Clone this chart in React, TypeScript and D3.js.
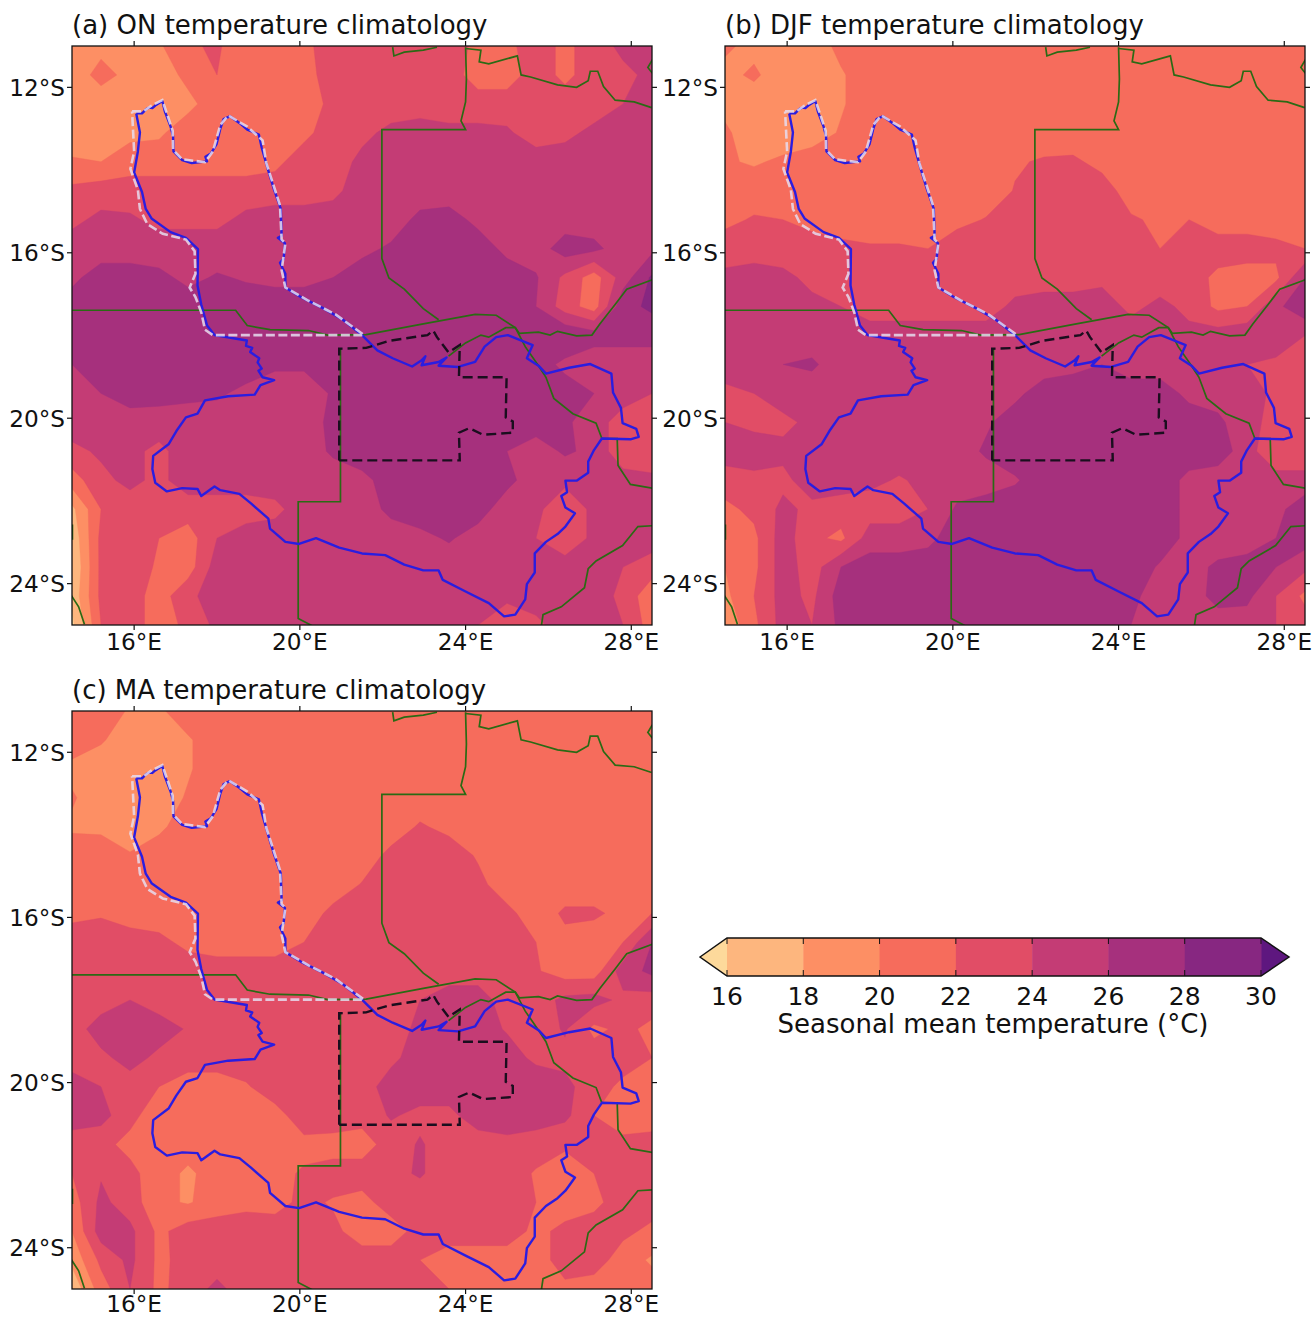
import React from "react";
import * as d3 from "d3";

type P = [number, number];

const FONT = "'DejaVu Sans', sans-serif";
const LON_MIN = 14.5, LON_MAX = 28.5, LAT_TOP = -11, LAT_BOTTOM = -25;
const GRID_N = 21;
const THRESHOLDS = [16, 18, 20, 22, 24, 26, 28, 30];
const BAND_COLORS = ["#FDB67E", "#FD8F64", "#F66C5C", "#E14D66", "#C43C75", "#A6307D", "#872781", "#5E177F"];
const UNDER_COLOR = "#FDD99B";
const LON_TICKS = [16, 20, 24, 28];
const LAT_TICKS = [-12, -16, -20, -24];

const ON_TEMP = [
  [19,19.5,19.5,19.7,21.8,22.2,21,21,21.5,23,23,23,23,23,21.5,21.5,23,21.5,23,24.5,25],
  [19,20.6,19.5,19,20.5,22,21,21,21.2,23,23,23,23,23,21,21,23,21.5,23,23.5,24.5],
  [19,19,19,19,19.5,21,21,21,21,22.5,23,23,23,22,23,23,23,23,23,24,25],
  [19,19.3,19.5,19.7,21,21,21,21,21.5,23,23.5,24.5,25,25,24.5,24.3,23,23.5,24.5,25,25],
  [20.2,20,21,21,21,21,21,21.5,23,23,24.5,25,25,25,25,25,25,25,25,25,25],
  [22.5,23,23,23,23,23,23,23,23,23.5,25,25,25,25,25,25,25,25,25,25,25],
  [23.5,24.5,24.3,23.5,23.5,23.5,24.5,25,25,25,25,25,26.5,26.8,25.5,25,25,25,25,25,25],
  [25,25,25,25,25,25,25,25,25,25,25.5,26.3,27,27,27,25.5,25,27,26.5,25,25.5],
  [25.5,27,27,26.5,25.5,26.2,25.8,25.5,25.5,26,27,27,27,27,27,27,26.2,23.5,21,25,28.3],
  [27,27,27,27,27,27,27,27,27,27,27,27,27,27,27,27,26,23,21,27.5,28.3],
  [27,27,27,27,27,27,27,27,27,27,27,27,27,27,27,27,27,27.8,27,27,27],
  [26,27,27,27,27,27,27,26.3,26.3,27,27,27,27,27,27,27,27,25.5,24.5,24.5,24.5],
  [25,26,27,26.8,26.5,26.3,25.5,25,25,26.2,27,27,27,27,27,27,27,27,26,24.5,24],
  [25,25,25,25,25,25,25,25,25,26.5,27,27,27,27,27,27,27,26.5,24.5,23.5,22.5],
  [23.5,24.3,24.5,23.5,25,25,25,25,25,26.3,27,27,27,27,27,26,25,26.3,25.5,22.5,22.5],
  [21,23.5,24.5,23.5,25,25,25,25,25,25,25.5,26.8,27,27,27,26.5,25,24.5,25,25,24.5],
  [17.5,22,23,23,23,23,23,23.5,25,25,25,26.5,27,27,26.8,25,24.5,22.5,24.5,25,25],
  [16.5,22.5,23.3,22,21,24,25,25,25,25,25,25,25.5,26.2,25.2,25,24,22.5,24.5,25,25],
  [16,22.5,23.8,21.5,21,25,25,25,25,25,25,25,25,25,25,25,25,25,24.5,24,23],
  [16.5,22.5,23,21,23.5,25,25,25,25,25,25,25,25,25,25,24.5,25,24.8,25,23.5,20.5],
  [15.5,22,23,21,22.5,24.5,25,25,25,25,25,25,25,25,24,22.5,23.5,25,25,24,21],
];

const DJF_TEMP = [
  [20.3,19.5,19,19,20.5,21,21,21,21,21,21,21,21,21,21,21,21,21,21,21,21],
  [19.5,20.3,19,19,19.8,21,21,21,21,21,21,21,21,21,21,21,21,21,21,21,21],
  [19.5,19,19,19,19.8,21,21,21,21,21,21,21,21,21,21,21,21,21,21,21,21],
  [20.3,19,19,19,20.2,21,21,21,21,21,21,21,21,21,21,21,21,21,21,21,21],
  [20.2,19.8,20.3,21,21,21,21,21,21,21,21.8,22.2,22.3,21.5,21,21,21,21,21,21,21],
  [21,21,21,21,21,21,21,21,21,21,22.1,23,23,22.8,21.2,21,21.5,21.8,21,21,21],
  [21.5,22.2,22,21.3,21,21,21,21,21.5,22.1,23,23,23,23,22.2,21.7,22,21,21,21,21],
  [23,23,23,23,22.5,22.2,22.2,22,23,23,23,23,23,23,23,22,23,23,23,22.5,22],
  [24.5,25,24.5,23.5,23,23,23,23,23,23,23,23,23,23.5,23,23,23,21.5,21,21.5,26],
  [25,25,25,24.5,24,23,23,23,23,23,24.5,25,25,25,23.5,24.5,23.5,21.5,22,25.5,27.5],
  [25,25,25,25,25,25,25,25,25,25,25,25,25,25,25,25,24.5,25,25.5,25.5,24],
  [25,25.5,26,26.3,25,25,25,25,25,25,25,25,25.5,26,25,25,25,24.5,24,23.5,23],
  [23.5,24,25,25,25,25,25,25,25,25,25.5,27,27,27,27,27,25.5,25,25,23.5,23],
  [24,23.5,23.5,24.5,25,25,25,25,25,25.7,27,27,27,27,27,27,27,26.5,24.5,23.5,22.5],
  [25,25,24.5,25,25,25,25,25,25,26.3,27,27,27,27,27,27,27,27,25,22,22],
  [23,23.5,23.5,25,25,24.5,23.8,24.5,25,25,25.8,27,27,27,27,27,25.5,25,25,25,25],
  [21.5,22.5,24.5,23.5,23,23,23,24,26.3,27,27,27,27,27,27,27,25.5,24,24.5,25.5,27],
  [20.5,21.5,25,22.5,21.5,25,25,25.5,27,27,27,27,27,27,27,27,25.5,24.5,25,26,27],
  [20,21.5,25,23,26,27,27,27,27,27,27,27,27,27,27,25.8,25,26.5,26.8,26,24.5],
  [19.5,22,24.8,23.5,27,27,27,27,27,27,27,27,27,27,26.5,25,25,26.7,26.5,24,21.5],
  [18.5,21.5,24.8,24,26.5,27,27,27,27,27,27,27,27,27,26,25,25,25,25,24,23],
];

const MA_TEMP = [
  [21,21,19.8,19.7,21,21,21,21,21,21,21,21,21,21,21,21,21,21,21,21,21],
  [21,20.2,19,19,19.8,21,21,21,21,21,21,21,21,21,21,21,21,21,21,21,21],
  [19.5,19,19,19,19.8,21,21,21,21,21,21,21,21,21,21,21,21,21,21,21,21],
  [20.2,19,19,19,20.2,21,21,21,21,21,21,21,21,21,21,21,21,21,21,21,21],
  [19.7,19.6,19.3,19.6,21,21,21,21,21,21,21,21,22.2,21.5,21,21,21,21,21,21,21],
  [21,21,20.1,21,21,21,21,21,21,21,21,22.5,23,23,21.8,21,21,21,21,21,21],
  [21,21,21,21,21,21,21,21,21,21,22.1,23,23,23,22.5,21,21,21,21,21,21],
  [21.5,21.8,21,21,21,21,21,21,21,22.5,23,23,23,23,23,22.5,21,22.3,22.3,21.5,22],
  [23,23,23,22.5,21.5,21,21,21,22,23,23,23,23,23,23,23,22,21.5,21,22,26],
  [23,23,23,23,23,23,23,23,23,23,23,23,23,23,23,23,22.2,21,21,25,26.5],
  [23,23,24,23,23,23,23,23,23,23,23,23,24,25,25,23,23,24.5,24.8,23.5,23],
  [23,25,25.5,25,23.8,23,23,23,23,23,23,23,24.5,25,25,23.8,23,24.2,21.5,22.5,21.5],
  [23,23.5,24.8,23.5,23,23,23,23,23,23,23,23.5,25,25,25,25,23.5,23.5,23,23,22],
  [25,24,23,22,21,21,21.8,23,23,23,23,25,25,25,25,25,25.5,24.5,23,21.5,21],
  [25,24.8,22.5,21,21,21,21,21.3,23,23.5,22.8,24.2,23.5,23.5,25,25,25,24.5,22,21,21],
  [23,22.5,21.5,21,21,21,21,21,21.5,21,21,23,24.2,23,23,23.5,23,22.3,22,22.5,22.8],
  [22,23.8,22.5,21,19.6,21,21,21.5,22.2,23,23,23.5,24.2,23,23,23,21.8,21,22,23,23],
  [21,24.5,23,20.5,19.8,21,21.5,21.3,22.5,21.8,21.3,23,23,23,23,23,22,21,21.5,23,23],
  [20,25,24.5,21.5,23,23,23,23,23,22.5,21,21,22.8,23,23,23,21.5,22.5,23,22.5,21.5],
  [18.5,22.5,24.5,21.5,22.8,23,23,23,23,23,23,23,22,21,21,21,21,23,23,21,19.7],
  [16.5,21,24,21.5,23,24.5,23,23,23,23,23,23,23,22,21,21,21,21.5,21,21,21],
];

const BASIN: P[] = [[16.05,-12.63],[16.19,-12.63],[16.3,-12.52],[16.37,-12.49],[16.44,-12.5],[16.51,-12.44],[16.68,-12.33],[16.74,-12.58],[16.88,-12.95],[16.94,-13.18],[16.95,-13.55],[17.16,-13.76],[17.39,-13.83],[17.76,-13.79],[17.72,-13.68],[17.85,-13.6],[17.99,-13.37],[18.08,-13],[18.16,-12.77],[18.31,-12.7],[18.54,-12.86],[18.73,-13.02],[19.01,-13.14],[19.08,-13.46],[19.24,-14.02],[19.38,-14.48],[19.54,-14.94],[19.56,-15.59],[19.47,-15.64],[19.64,-15.77],[19.61,-16.14],[19.52,-16.24],[19.65,-16.51],[19.65,-16.84],[20.02,-17.07],[20.58,-17.35],[21.04,-17.62],[21.5,-17.99],[21.87,-18.36],[22.24,-18.55],[22.71,-18.75],[22.94,-18.6],[23.03,-18.5],[22.94,-18.72],[23.35,-18.64],[23.54,-18.53],[23.35,-18.73],[23.82,-18.76],[24.23,-18.64],[24.46,-18.27],[24.74,-18.04],[25.02,-17.99],[25.62,-18.23],[25.48,-18.55],[25.76,-18.73],[25.94,-18.92],[26.5,-18.78],[27.01,-18.69],[27.52,-18.92],[27.56,-19.38],[27.75,-19.75],[27.79,-20.12],[28.12,-20.26],[28.18,-20.45],[27.98,-20.51],[27.29,-20.49],[27.1,-20.77],[26.96,-21.05],[26.96,-21.32],[26.68,-21.51],[26.41,-21.51],[26.45,-21.79],[26.31,-21.88],[26.41,-22.16],[26.64,-22.3],[26.41,-22.62],[26.22,-22.8],[25.94,-22.99],[25.67,-23.27],[25.67,-23.73],[25.48,-24.01],[25.44,-24.38],[25.2,-24.75],[24.93,-24.79],[24.56,-24.47],[24,-24.19],[23.45,-23.91],[23.35,-23.68],[22.98,-23.68],[22.52,-23.54],[22.06,-23.31],[21.5,-23.27],[20.95,-23.13],[20.39,-22.9],[19.98,-23.04],[19.65,-22.99],[19.28,-22.67],[19.24,-22.43],[18.82,-22.06],[18.54,-21.83],[18.08,-21.74],[17.94,-21.65],[17.62,-21.88],[17.53,-21.71],[17.16,-21.69],[16.79,-21.77],[16.51,-21.56],[16.44,-21.23],[16.46,-20.91],[16.83,-20.63],[17.02,-20.31],[17.25,-19.98],[17.53,-19.89],[17.71,-19.57],[18.27,-19.47],[18.91,-19.43],[19.05,-19.2],[19.38,-19.08],[19.1,-19.01],[19,-18.85],[19.08,-18.8],[18.98,-18.65],[19.02,-18.55],[18.8,-18.4],[18.85,-18.3],[18.7,-18.25],[18.72,-18.12],[18.54,-18.09],[17.94,-17.99],[17.76,-17.76],[17.62,-17.25],[17.53,-16.79],[17.54,-15.91],[17.25,-15.64],[16.88,-15.5],[16.42,-15.17],[16.28,-14.94],[16.19,-14.53],[16,-14.06],[16.09,-13.55],[16.14,-13.09],[16.05,-12.63]];

const UPPER_BASIN: P[] = [[15.95,-12.58],[16.23,-12.58],[16.42,-12.44],[16.68,-12.31],[16.79,-12.63],[16.93,-13.05],[16.94,-13.51],[17.16,-13.74],[17.71,-13.81],[17.9,-13.55],[18.08,-12.91],[18.27,-12.68],[18.73,-12.95],[19.1,-13.28],[19.19,-13.83],[19.52,-14.85],[19.56,-15.68],[19.65,-15.77],[19.56,-16.42],[19.65,-16.84],[20.21,-17.16],[20.86,-17.49],[21.55,-17.99],[17.9,-17.99],[17.71,-17.86],[17.62,-17.44],[17.48,-17.07],[17.34,-16.84],[17.48,-16.51],[17.46,-15.96],[17.25,-15.68],[16.69,-15.54],[16.32,-15.31],[16.14,-14.94],[16.09,-14.48],[15.91,-13.97],[16,-13.55],[15.95,-12.58]];

const DELTA: P[] = [[20.95,-21.02],[20.95,-18.32],[21.6,-18.3],[22.15,-18.13],[23.08,-17.99],[23.22,-17.88],[23.31,-18.04],[23.59,-18.41],[23.86,-18.23],[23.84,-19.01],[24.99,-19.01],[24.97,-19.98],[25.14,-20.08],[25.14,-20.35],[24.42,-20.4],[24.09,-20.24],[23.84,-20.35],[23.86,-21.02],[20.95,-21.02]];

const BORDERS: P[][] = [
  [[14.48,-17.39],[18.45,-17.39],[18.73,-17.76],[19.28,-17.86],[20.21,-17.88],[20.67,-17.99],[21.6,-17.98],[22.98,-17.72],[24.23,-17.49],[24.74,-17.51],[25.2,-17.81],[25.3,-17.95],[25.76,-17.92],[26.04,-17.99],[26.22,-17.9],[26.68,-18.01],[27.05,-17.99],[27.24,-17.72],[27.61,-17.25],[27.89,-16.88],[28.51,-16.65]],
  [[24,-11.03],[24.02,-11.8],[24,-12.35],[23.89,-12.81],[24,-13.02],[21.98,-13.02],[21.98,-16.14],[22.15,-16.61],[22.52,-16.88],[22.98,-17.35],[23.35,-17.62]],
  [[20.98,-18.32],[20.98,-22.02],[19.96,-22.02],[19.96,-24.84],[20.3,-25.02]],
  [[23.59,-18.5],[24,-18.18],[24.37,-17.99],[24.56,-18.04],[24.97,-17.81],[25.2,-17.81],[25.44,-18.27],[25.76,-18.73],[25.94,-19.01],[26.13,-19.52],[26.59,-19.89],[27.15,-20.12],[27.29,-20.49],[27.66,-20.49],[27.68,-21.14],[27.98,-21.6],[28.51,-21.69]],
  [[28.51,-22.6],[28.16,-22.62],[27.79,-23.08],[27.15,-23.45],[26.96,-23.64],[26.87,-24.1],[26.31,-24.56],[25.87,-24.75],[25.83,-25.02]],
  [[22.24,-11.03],[22.27,-11.24],[22.52,-11.15],[22.98,-11.1],[23.31,-11.03]],
  [[24,-11.06],[24.37,-11.1],[24.33,-11.38],[24.56,-11.43],[25.25,-11.24],[25.34,-11.7],[25.57,-11.75],[26.22,-11.94],[26.68,-12],[26.96,-11.84],[27.01,-11.61],[27.19,-11.61],[27.33,-11.98],[27.61,-12.31],[28.07,-12.35],[28.49,-12.49]],
  [[28.51,-11.33],[28.4,-11.52],[28.51,-11.66]],
  [[14.48,-24.28],[14.66,-24.56],[14.8,-24.98]],
  [[14.51,-22.57],[14.51,-22.94]],
];

const PANELS = [
  { id: "a", title: "(a) ON temperature climatology", grid: ON_TEMP, x0: 72, y0: 46, w: 580, h: 579, lonLabelDy: 25 },
  { id: "b", title: "(b) DJF temperature climatology", grid: DJF_TEMP, x0: 725, y0: 46, w: 580, h: 579, lonLabelDy: 25 },
  { id: "c", title: "(c) MA temperature climatology", grid: MA_TEMP, x0: 72, y0: 711, w: 580, h: 578, lonLabelDy: 22.5 },
];

const CB_TICKS = [16, 18, 20, 22, 24, 26, 28, 30];

function Panel({ p }: { p: (typeof PANELS)[number] }) {
  const x = d3.scaleLinear().domain([LON_MIN, LON_MAX]).range([p.x0, p.x0 + p.w]);
  const y = d3.scaleLinear().domain([LAT_TOP, LAT_BOTTOM]).range([p.y0, p.y0 + p.h]);
  // d3.contours places cell values at i + 0.5
  const gx = d3.scaleLinear().domain([0.5, GRID_N - 0.5]).range([LON_MIN, LON_MAX]);
  const gy = d3.scaleLinear().domain([0.5, GRID_N - 0.5]).range([LAT_TOP, LAT_BOTTOM]);
  const contours = d3.contours().size([GRID_N, GRID_N]).thresholds(THRESHOLDS)(p.grid.flat());
  const geo = d3.geoPath(
    d3.geoTransform({
      point(px: number, py: number) {
        (this as any).stream.point(x(gx(px)), y(gy(py)));
      },
    })
  );
  const line = d3.line<P>().x((d) => x(d[0])).y((d) => y(d[1]));
  const clip = `clip-${p.id}`;
  return (
    <g>
      <clipPath id={clip}>
        <rect x={p.x0} y={p.y0} width={p.w} height={p.h} />
      </clipPath>
      <g clipPath={`url(#${clip})`}>
        <rect x={p.x0} y={p.y0} width={p.w} height={p.h} fill={UNDER_COLOR} />
        {contours.map((c, i) => (
          <path key={i} d={geo(c as any) || ""} fill={BAND_COLORS[i]} stroke={BAND_COLORS[i]} strokeWidth={0.4} />
        ))}
        {BORDERS.map((b, i) => (
          <path key={i} d={line(b) || ""} fill="none" stroke="#2A6A14" strokeWidth={1.7} />
        ))}
        <path d={line(BASIN) || ""} fill="none" stroke="#2A1DE0" strokeWidth={2.4} strokeLinejoin="round" />
        <path d={line(UPPER_BASIN) || ""} fill="none" stroke="#E6DCEF" strokeOpacity={0.85} strokeWidth={2.6} strokeDasharray="9 3.5" />
        <path d={line(DELTA) || ""} fill="none" stroke="#1A0E1E" strokeWidth={2.4} strokeDasharray="10 5" />
      </g>
      <rect x={p.x0} y={p.y0} width={p.w} height={p.h} fill="none" stroke="#111" strokeWidth={1.3} />
      {LON_TICKS.map((t) => (
        <g key={t}>
          <line x1={x(t)} x2={x(t)} y1={p.y0 + p.h} y2={p.y0 + p.h + 5} stroke="#111" strokeWidth={1.2} />
          <line x1={x(t)} x2={x(t)} y1={p.y0} y2={p.y0 - 5} stroke="#111" strokeWidth={1.2} />
          <text x={x(t)} y={p.y0 + p.h + p.lonLabelDy} textAnchor="middle" fontFamily={FONT} fontSize={23.2} fill="#111">{`${t}°E`}</text>
        </g>
      ))}
      {LAT_TICKS.map((t) => (
        <g key={t}>
          <line x1={p.x0 - 5} x2={p.x0} y1={y(t)} y2={y(t)} stroke="#111" strokeWidth={1.2} />
          <line x1={p.x0 + p.w} x2={p.x0 + p.w + 5} y1={y(t)} y2={y(t)} stroke="#111" strokeWidth={1.2} />
          <text x={p.x0 - 7} y={y(t) + 8.5} textAnchor="end" fontFamily={FONT} fontSize={23.2} fill="#111">{`${-t}°S`}</text>
        </g>
      ))}
      <text x={p.x0} y={p.y0 - 12} fontFamily={FONT} fontSize={26} fill="#111">{p.title}</text>
    </g>
  );
}

function ColorBar() {
  const x = d3.scaleLinear().domain([16, 30]).range([727, 1261]);
  const top = 938, bottom = 976, mid = (top + bottom) / 2;
  const tipL = 700, tipR = 1289;
  return (
    <g>
      <polygon points={`${tipL},${mid} ${x(16)},${top} ${x(16)},${bottom}`} fill={UNDER_COLOR} />
      <polygon points={`${tipR},${mid} ${x(30)},${top} ${x(30)},${bottom}`} fill={BAND_COLORS[7]} />
      {CB_TICKS.slice(0, -1).map((t, i) => (
        <rect key={t} x={x(t)} y={top} width={x(CB_TICKS[i + 1]) - x(t) + 0.5} height={bottom - top} fill={BAND_COLORS[i]} />
      ))}
      <polygon
        points={`${tipL},${mid} ${x(16)},${top} ${x(30)},${top} ${tipR},${mid} ${x(30)},${bottom} ${x(16)},${bottom}`}
        fill="none"
        stroke="#111"
        strokeWidth={1.5}
      />
      {CB_TICKS.map((t) => (
        <g key={t}>
          <line x1={x(t)} x2={x(t)} y1={top} y2={top + 6} stroke="#111" strokeWidth={1} />
          <line x1={x(t)} x2={x(t)} y1={bottom - 6} y2={bottom} stroke="#111" strokeWidth={1} />
          <text x={x(t)} y={1005} textAnchor="middle" fontFamily={FONT} fontSize={25} fill="#111">{t}</text>
        </g>
      ))}
      <text x={993} y={1033} textAnchor="middle" fontFamily={FONT} fontSize={26} fill="#111">Seasonal mean temperature (°C)</text>
    </g>
  );
}

export default function App() {
  return (
    <svg width={1312} height={1317} style={{ position: "absolute", left: 0, top: 0, background: "#fff" }}>
      {PANELS.map((p) => (
        <Panel key={p.id} p={p} />
      ))}
      <ColorBar />
    </svg>
  );
}
